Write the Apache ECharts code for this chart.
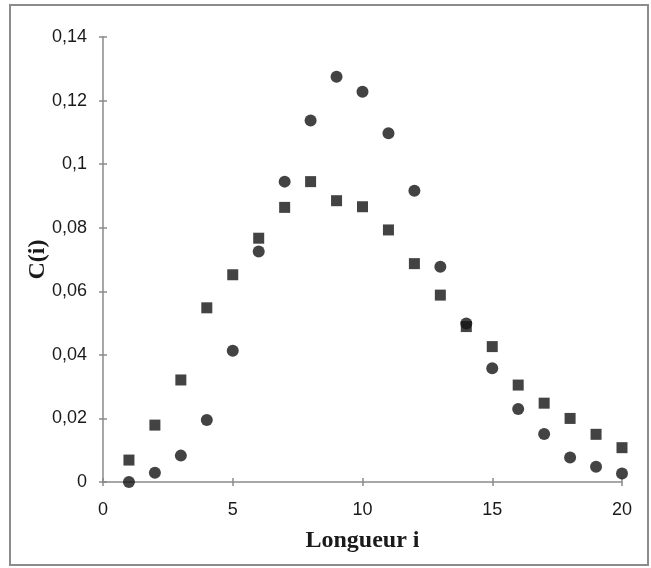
<!DOCTYPE html>
<html>
<head>
<meta charset="utf-8">
<script src="https://cdn.jsdelivr.net/npm/echarts@6/dist/echarts.min.js"></script>
<style>
  html, body { margin: 0; padding: 0; background: #fff; }
  #main { width: 651px; height: 568px; }
</style>
</head>
<body>
<div id="main"></div>
<script>
// longueur i
var lengths = [1, 2, 3, 4, 5, 6, 7, 8, 9, 10, 11, 12, 13, 14, 15, 16, 17, 18, 19, 20];
// serie des carres
var squareValues = [0.0069, 0.0179, 0.0321, 0.0548, 0.0652, 0.0767, 0.0864, 0.0945, 0.0885, 0.0866,
    0.0793, 0.0687, 0.0588, 0.0489, 0.0426, 0.0305, 0.0248, 0.0200, 0.0150, 0.0108];
// serie des cercles
var circleValues = [0.0, 0.0029, 0.0083, 0.0195, 0.0413, 0.0725, 0.0945, 0.1137, 0.1275, 0.1228,
    0.1097, 0.0916, 0.0677, 0.0499, 0.0358, 0.0230, 0.0151, 0.0077, 0.0048, 0.0027];

var xTitle = 'Longueur i';
var yTitle = 'C(i)';

function pairs(vals) {
    return lengths.map(function (x, i) { return [x, vals[i]]; });
}
// virgule decimale
function commaFmt(v) {
    return String(+v.toFixed(2)).replace('.', ',');
}

var myChart = echarts.init(document.getElementById('main'));

var axisLineStyle = { color: '#8a8a8a', width: 1.5 };
var labelStyle = { color: '#1a1a1a', fontFamily: 'Liberation Sans, Arial', fontSize: 18 };
var titleStyle = { fontFamily: 'Liberation Serif, Times New Roman', fontWeight: 'bold', fontSize: 24, color: '#1a1a1a' };

var option = {
    backgroundColor: '#fff',
    animation: false,
    graphic: [{
        type: 'rect',
        shape: { x: 10, y: 5, width: 638, height: 560 },
        style: { fill: 'none', stroke: '#8c8c8c', lineWidth: 2 },
        z: 100
    }],
    grid: { left: 103, right: 29, top: 37, bottom: 86 },
    xAxis: [{
        type: 'value', min: 0, max: 20, interval: 5,
        name: xTitle, nameLocation: 'middle', nameGap: 47,
        nameTextStyle: titleStyle,
        axisLine: { lineStyle: axisLineStyle },
        axisTick: { length: 4, lineStyle: axisLineStyle },
        axisLabel: Object.assign({ margin: 19 }, labelStyle),
        splitLine: { show: false }
    }, {
        type: 'value', min: 0, max: 20, interval: 5, position: 'bottom',
        axisLine: { show: false },
        axisTick: { inside: true, length: 4, lineStyle: axisLineStyle },
        axisLabel: { show: false },
        splitLine: { show: false }
    }],
    yAxis: [{
        type: 'value', min: 0, max: 0.14, interval: 0.02,
        name: yTitle, nameLocation: 'middle', nameGap: 53, nameRotate: 90,
        nameMoveOverlap: false,
        nameTextStyle: titleStyle,
        axisLine: { show: true, lineStyle: axisLineStyle },
        axisTick: { show: true, length: 4, lineStyle: axisLineStyle },
        axisLabel: Object.assign({ margin: 16, formatter: commaFmt }, labelStyle),
        splitLine: { show: false }
    }, {
        type: 'value', min: 0, max: 0.14, interval: 0.02, position: 'left', offset: 0,
        axisLine: { show: false },
        axisTick: { show: true, inside: true, length: 4, lineStyle: axisLineStyle },
        axisLabel: { show: false },
        splitLine: { show: false }
    }],
    series: [{
        name: 'carres',
        type: 'scatter',
        symbol: 'rect',
        symbolSize: 11,
        itemStyle: { color: '#141414' },
        data: pairs(squareValues)
    }, {
        name: 'cercles',
        type: 'scatter',
        symbol: 'circle',
        symbolSize: 12,
        itemStyle: { color: '#141414' },
        data: pairs(circleValues)
    }]
};

myChart.setOption(option);
</script>
</body>
</html>
